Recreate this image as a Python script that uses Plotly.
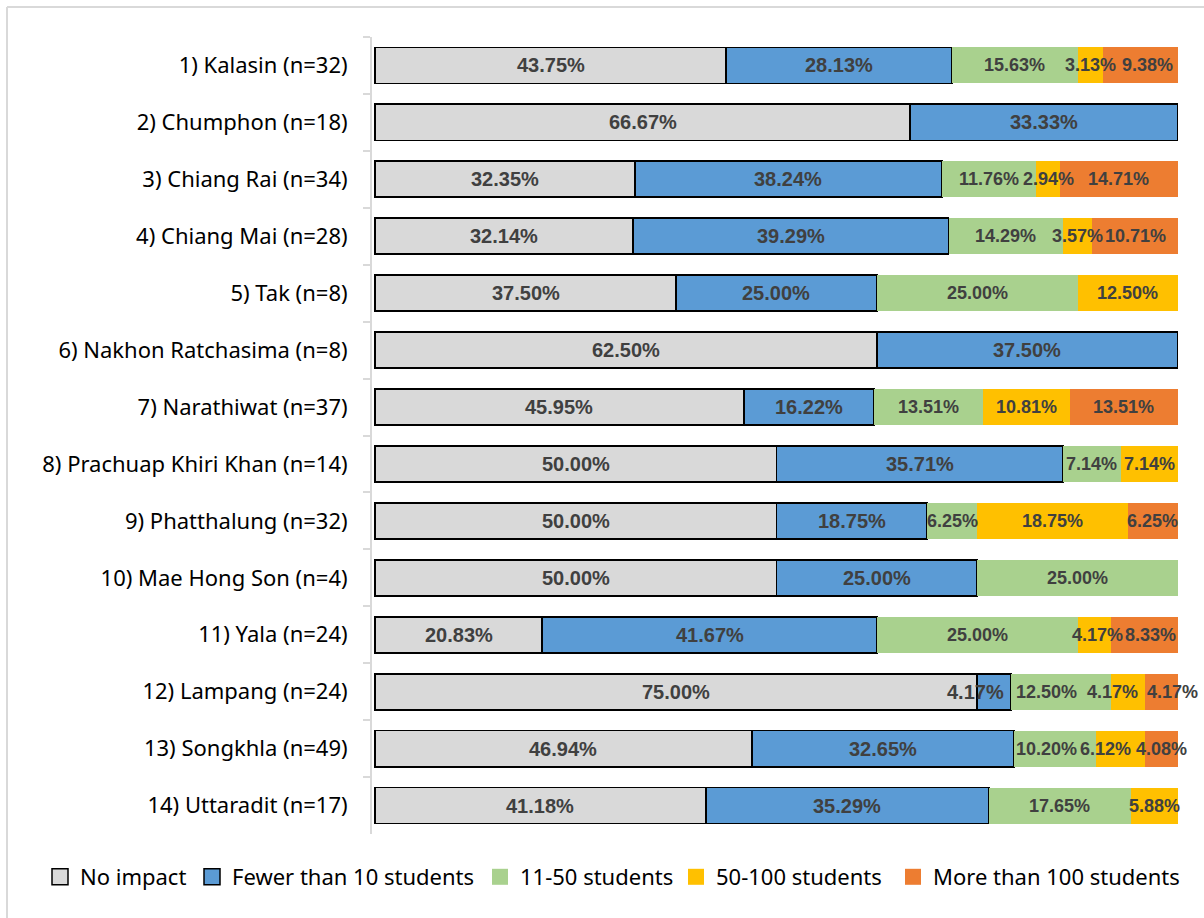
import plotly.graph_objects as go

# Provinces (category axis, top to bottom)
provinces = [
    "1) Kalasin (n=32)",
    "2) Chumphon (n=18)",
    "3) Chiang Rai (n=34)",
    "4) Chiang Mai (n=28)",
    "5) Tak (n=8)",
    "6) Nakhon Ratchasima (n=8)",
    "7) Narathiwat (n=37)",
    "8) Prachuap Khiri Khan (n=14)",
    "9) Phatthalung (n=32)",
    "10) Mae Hong Son (n=4)",
    "11) Yala (n=24)",
    "12) Lampang (n=24)",
    "13) Songkhla (n=49)",
    "14) Uttaradit (n=17)",
]

# Share of schools (%) by number of affected students; None = no responses
no_impact = [43.75, 66.67, 32.35, 32.14, 37.50, 62.50, 45.95, 50.00, 50.00, 50.00, 20.83, 75.00, 46.94, 41.18]
fewer_than_10 = [28.13, 33.33, 38.24, 39.29, 25.00, 37.50, 16.22, 35.71, 18.75, 25.00, 41.67, 4.17, 32.65, 35.29]
s11_50 = [15.63, None, 11.76, 14.29, 25.00, None, 13.51, 7.14, 6.25, 25.00, 25.00, 12.50, 10.20, 17.65]
s50_100 = [3.13, None, 2.94, 3.57, 12.50, None, 10.81, 7.14, 18.75, None, 4.17, 4.17, 6.12, 5.88]
more_than_100 = [9.38, None, 14.71, 10.71, None, None, 13.51, None, 6.25, None, 8.33, 4.17, 4.08, None]

series_names = ["No impact", "Fewer than 10 students", "11-50 students",
                "50-100 students", "More than 100 students"]
series_values = [no_impact, fewer_than_10, s11_50, s50_100, more_than_100]
series_colors = ["#D9D9D9", "#5B9BD5", "#A9D18E", "#FFC000", "#ED7D31"]
series_outline = [1.8, 1.8, 0, 0, 0]
label_sizes = [20, 20, 18, 18, 18]

# Horizontal nudges (px) for crowded labels: (row, series) -> shift
label_nudge = {
    (0, 4): 7,
    (10, 3): 3, (10, 4): 6,
    (11, 1): -18, (11, 2): -14, (11, 3): -15, (11, 4): 11,
    (12, 2): -9, (12, 3): -15,
}

# Left edge (px) of each legend entry's swatch
legend_left_px = [53, 205, 493, 689, 906]

W, H = 1204, 918
M_L, M_R, M_T, M_B = 372, 26, 37, 84
LEGEND_Y_PX = 877

fig = go.Figure()
legend_ids = ["legend"] + [f"legend{i}" for i in range(2, len(series_names) + 1)]
for name, vals, color, lw in zip(series_names, series_values, series_colors, series_outline):
    fig.add_trace(go.Bar(
        y=provinces,
        x=vals,
        name=name,
        orientation="h",
        marker=dict(color=color, line=dict(color="#000000", width=lw)),
        textposition="none",
        hoverinfo="skip",
        showlegend=False,
    ))

# Legend swatches (square markers, one legend box per entry)
for name, color, lw, lid in zip(series_names, series_colors, series_outline, legend_ids):
    fig.add_trace(go.Scatter(
        x=[None], y=[None],
        mode="markers",
        name=name,
        marker=dict(symbol="square", size=16, color=color,
                    line=dict(color="#000000", width=1.5 if lw else 0)),
        hoverinfo="skip",
        legend=lid,
    ))

# Percentage labels centred on each segment, drawn above all bars
for row, prov in enumerate(provinces):
    start = 0.0
    for k, (vals, fs) in enumerate(zip(series_values, label_sizes)):
        v = vals[row]
        if v is None:
            continue
        fig.add_annotation(
            x=start + v / 2, y=prov, xref="x", yref="y",
            text=f"{v:.2f}%", showarrow=False,
            xshift=label_nudge.get((row, k), 0),
            font=dict(family="Liberation Sans, Arial", size=fs, color="#404040", weight="bold"),
            xanchor="center", yanchor="middle",
        )
        start += v

# Light frame along the top and left edges of the figure
plot_w = W - M_L - M_R
plot_h = H - M_T - M_B
fx = (7 - M_L) / plot_w
fy = (H - M_B - 7) / plot_h
fx_end = (W + 20 - M_L) / plot_w
fy_end = (H - M_B - H - 20) / plot_h
frame = dict(type="line", xref="paper", yref="paper", line=dict(color="#D9D9D9", width=2), layer="below")
fig.add_shape(**frame, x0=fx, x1=fx_end, y0=fy, y1=fy)
fig.add_shape(**frame, x0=fx, x1=fx, y0=fy, y1=fy_end)

legend_font = dict(family="Noto Sans", size=22, color="#000000")
layout_legends = {}
for lid, left in zip(legend_ids, legend_left_px):
    layout_legends[lid] = dict(
        orientation="h",
        xref="container", yref="container",
        x=(left - 13) / W, xanchor="left",
        y=1 - LEGEND_Y_PX / H, yanchor="middle",
        font=legend_font,
        bgcolor="rgba(0,0,0,0)",
        itemwidth=30,
    )

fig.update_layout(
    width=W,
    height=H,
    barmode="stack",
    bargap=0.367,
    plot_bgcolor="white",
    paper_bgcolor="white",
    margin=dict(l=M_L, r=M_R, t=M_T, b=M_B, pad=0),
    font=dict(family="Noto Sans", size=22, color="#000000"),
    showlegend=True,
    xaxis=dict(
        range=[-0.37, 100],
        visible=False,
        fixedrange=True,
    ),
    yaxis=dict(
        categoryorder="array",
        categoryarray=provinces,
        range=[13.5, -0.5],
        showline=True,
        linecolor="#D9D9D9",
        linewidth=2,
        ticks="outside",
        tickson="boundaries",
        ticklen=7,
        tickwidth=2,
        tickcolor="#D9D9D9",
        ticklabelstandoff=18,
        showgrid=False,
        tickfont=dict(family="Noto Sans", size=22, color="#000000"),
    ),
    **layout_legends,
)

fig.write_html("out.html")
